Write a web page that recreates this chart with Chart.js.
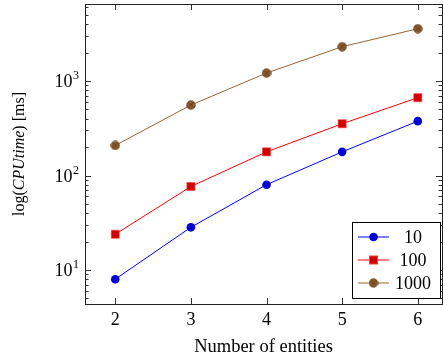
<!DOCTYPE html>
<html>
<head>
<meta charset="utf-8">
<script src="https://cdn.jsdelivr.net/npm/chart.js@4/dist/chart.umd.min.js"></script>
<style>
  html, body { margin: 0; padding: 0; background: #fff; }
  #wrap { width: 443px; height: 358px; position: relative; }
</style>
</head>
<body>
<div id="wrap"><canvas id="myChart"></canvas></div>
<script>
// data
const entities = [2, 3, 4, 5, 6];
const time10 = [8.0, 28.3, 80, 178, 376];
const time100 = [23.9, 76.5, 178, 353, 666];
const time1000 = [208, 557, 1215, 2307, 3575];
const seriesNames = ['10', '100', '1000'];
const xTicks = [2, 3, 4, 5, 6];
const yMajorTicks = [10, 100, 1000];

const serif = "'Liberation Serif', 'DejaVu Serif', serif";

// brown marker: filled circle with a cross on it
function makeOtimes(fill, stroke) {
    const c = document.createElement('canvas');
    c.width = 10; c.height = 10;
    const g = c.getContext('2d');
    g.beginPath();
    g.arc(5, 5, 4.3, 0, Math.PI * 2);
    g.fillStyle = fill; g.fill();
    g.lineWidth = 0.8; g.strokeStyle = stroke; g.stroke();
    g.beginPath();
    g.moveTo(2.2, 2.2); g.lineTo(7.8, 7.8);
    g.moveTo(7.8, 2.2); g.lineTo(2.2, 7.8);
    g.lineWidth = 0.6; g.strokeStyle = 'rgba(60,40,20,0.8)'; g.stroke();
    return c;
}
const otimes = makeOtimes('rgb(140,90,45)', 'rgb(110,70,35)');

function pts(ys) {
    return entities.map((x, i) => ({ x: x, y: ys[i] }));
}

// frame + inward ticks on all four sides, y labels, y title, legend
const frame = {
    id: 'frame',
    afterDraw(chart) {
        const ctx = chart.ctx, a = chart.chartArea;
        const xs = chart.scales.x, ys = chart.scales.y;
        ctx.save();
        ctx.strokeStyle = '#333';
        ctx.lineWidth = 1;
        ctx.beginPath();
        xTicks.forEach(v => {
            const px = Math.round(xs.getPixelForValue(v)) + 0.5;
            ctx.moveTo(px, a.bottom); ctx.lineTo(px, a.bottom - 6);
            ctx.moveTo(px, a.top); ctx.lineTo(px, a.top + 6);
        });
        ys.ticks.forEach(t => {
            const v = t.value;
            const e = Math.floor(Math.log10(v) + 1e-9);
            const m = v / Math.pow(10, e);
            if (Math.abs(m - Math.round(m)) > 1e-6) return;
            const len = Math.abs(m - 1) < 1e-6 ? 6 : 3.5;
            const py = Math.round(ys.getPixelForValue(v)) + 0.5;
            if (py < a.top || py > a.bottom) return;
            ctx.moveTo(a.left, py); ctx.lineTo(a.left + len, py);
            ctx.moveTo(a.right, py); ctx.lineTo(a.right - len, py);
        });
        ctx.stroke();
        ctx.strokeStyle = '#222';
        ctx.strokeRect(Math.round(a.left) + 0.5, Math.round(a.top) + 0.5,
            Math.round(a.right - a.left), Math.round(a.bottom - a.top));

        // y tick labels as 10^n
        ctx.fillStyle = '#000';
        ctx.textBaseline = 'alphabetic';
        yMajorTicks.forEach(v => {
            const py = ys.getPixelForValue(v);
            const ex = String(Math.round(Math.log10(v)));
            ctx.font = '12px ' + serif;
            const ew = ctx.measureText(ex).width;
            ctx.textAlign = 'right';
            ctx.fillText(ex, 79, py - 2);
            ctx.font = '18px ' + serif;
            ctx.fillText('10', 79 - ew - 0.5, py + 6);
        });

        // y title with italic part
        const parts = [['log(', ''], ['CPUtime', 'italic '], [') [ms]', '']];
        ctx.textAlign = 'left';
        let total = 0;
        parts.forEach(p => { ctx.font = p[1] + '16px ' + serif; total += ctx.measureText(p[0]).width; });
        ctx.translate(20, (a.top + a.bottom) / 2);
        ctx.rotate(-Math.PI / 2);
        ctx.textBaseline = 'middle';
        let x0 = -total / 2;
        parts.forEach(p => {
            ctx.font = p[1] + '16px ' + serif;
            ctx.fillText(p[0], x0, 0);
            x0 += ctx.measureText(p[0]).width;
        });
        ctx.restore();

        // legend box
        ctx.save();
        ctx.fillStyle = '#fff';
        ctx.fillRect(352, 222, 88, 76);
        ctx.strokeStyle = '#000';
        ctx.lineWidth = 1;
        ctx.strokeRect(352.5, 222.5, 88, 76);
        const rows = [237, 260, 283];
        chart.data.datasets.forEach((ds, i) => {
            const y = rows[i];
            ctx.strokeStyle = ds.borderColor;
            ctx.beginPath(); ctx.moveTo(358, y); ctx.lineTo(389, y); ctx.stroke();
            if (ds.pointStyle === 'rect') {
                ctx.fillStyle = ds.pointBackgroundColor;
                ctx.fillRect(369.5, y - 4, 8, 8);
                ctx.strokeStyle = ds.pointBorderColor;
                ctx.strokeRect(369.5, y - 4, 8, 8);
            } else if (ds.pointStyle === 'circle') {
                ctx.beginPath(); ctx.arc(373.5, y, 4.3, 0, Math.PI * 2);
                ctx.fillStyle = ds.pointBackgroundColor; ctx.fill();
            } else {
                ctx.drawImage(otimes, 368.5, y - 5);
            }
            ctx.fillStyle = '#000';
            ctx.font = '18px ' + serif;
            ctx.textAlign = 'center';
            ctx.textBaseline = 'middle';
            ctx.fillText(ds.label, 413, y + 1);
        });
        ctx.restore();
    }
};

const ctx = document.getElementById('myChart').getContext('2d');
const myChart = new Chart(ctx, {
    type: 'line',
    data: {
        datasets: [{
            label: seriesNames[0],
            data: pts(time10),
            borderColor: 'rgb(0,0,255)',
            borderWidth: 1,
            pointStyle: 'circle',
            pointRadius: 4.3,
            pointBackgroundColor: 'rgb(0,0,215)',
            pointBorderColor: 'rgb(0,0,215)',
            pointBorderWidth: 0
        }, {
            label: seriesNames[1],
            data: pts(time100),
            borderColor: 'rgb(255,0,0)',
            borderWidth: 1,
            pointStyle: 'rect',
            pointRadius: 5.7,
            pointBackgroundColor: 'rgb(210,0,0)',
            pointBorderColor: 'rgb(255,60,60)',
            pointBorderWidth: 0.6
        }, {
            label: seriesNames[2],
            data: pts(time1000),
            borderColor: 'rgb(150,100,55)',
            borderWidth: 1,
            pointStyle: otimes
        }]
    },
    options: {
        responsive: true,
        maintainAspectRatio: false,
        animation: false,
        layout: { autoPadding: false, padding: { top: 4, right: 1, left: 0, bottom: 0 } },
        plugins: { legend: { display: false }, tooltip: { enabled: false } },
        scales: {
            x: {
                type: 'linear',
                min: 1.6,
                max: 6.32,
                afterBuildTicks: s => { s.ticks = xTicks.map(v => ({ value: v })); },
                afterFit: s => { s.height = 54; s.paddingLeft = 0; s.paddingRight = 0; },
                grid: { display: false, drawTicks: false },
                border: { display: false },
                ticks: { color: '#000', font: { family: serif, size: 18 }, padding: 5, maxRotation: 0 },
                title: {
                    display: true, text: 'Number of entities', color: '#000',
                    font: { family: serif, size: 18.5 }, padding: { top: 0, bottom: 0 }
                }
            },
            y: {
                type: 'logarithmic',
                min: 4.37,
                max: 6530,
                afterFit: s => { s.width = 85; s.paddingTop = 0; s.paddingBottom = 0; },
                grid: { display: false, drawTicks: false },
                border: { display: false },
                ticks: {
                    autoSkip: false,
                    font: { family: serif, size: 10 },
                    callback: () => ''
                }
            }
        }
    },
    plugins: [frame]
});
</script>
</body>
</html>
